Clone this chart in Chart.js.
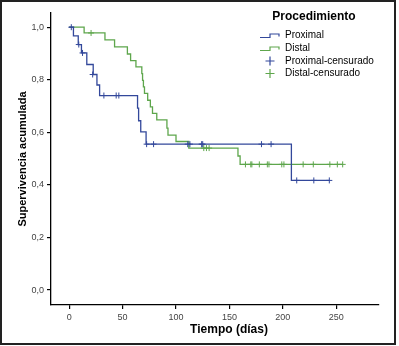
<!DOCTYPE html>
<html>
<head>
<meta charset="utf-8">
<script src="https://cdn.jsdelivr.net/npm/chart.js@4"></script>
<style>
  html, body { margin: 0; padding: 0; background: #fff; }
  #wrap { width: 399px; height: 346px; }
</style>
</head>
<body>
<div id="wrap"><canvas id="km_chart" width="399" height="346"></canvas></div>
<script>
// Kaplan-Meier steps (time in days, cumulative survival after the event)
const proximalTimes = [0, 4, 8.5, 11.5, 16.5, 22.5, 26, 28.5, 64, 65, 67, 72, 208, 243.5];
const proximalSurvival = [1.0, 0.967, 0.934, 0.902, 0.858, 0.82, 0.78, 0.74, 0.692, 0.644, 0.602, 0.555, 0.417, 0.417];
const proximalCensorTimes = [2, 9, 12.5, 22, 32.5, 44, 46.5, 72.5, 79, 111, 113, 124, 125, 180, 189, 213, 229, 243.5];
const proximalCensorSurvival = [1.0, 0.934, 0.902, 0.82, 0.74, 0.74, 0.74, 0.555, 0.555, 0.555, 0.555, 0.555, 0.555, 0.555, 0.555, 0.417, 0.417, 0.417];

const distalTimes = [0, 14, 33.5, 42.5, 54.5, 57.5, 62.5, 68, 68.7, 69.5, 70.5, 73.5, 76, 78, 82, 91.5, 92.5, 100, 112, 158, 160, 256];
const distalSurvival = [1.0, 0.978, 0.952, 0.925, 0.898, 0.873, 0.849, 0.823, 0.798, 0.773, 0.748, 0.722, 0.697, 0.672, 0.647, 0.616, 0.589, 0.565, 0.54, 0.51, 0.478, 0.478];
const distalCensorTimes = [20.5, 126, 128.5, 131, 165, 170, 171, 178, 185.5, 187, 199, 201, 219, 228.5, 244, 251, 256];
const distalCensorSurvival = [0.978, 0.54, 0.54, 0.54, 0.478, 0.478, 0.478, 0.478, 0.478, 0.478, 0.478, 0.478, 0.478, 0.478, 0.478, 0.478, 0.478];

const xTickValues = [0, 50, 100, 150, 200, 250];
const yTickValues = [0, 0.2, 0.4, 0.6, 0.8, 1.0];

const legendTitle = 'Procedimiento';
const legendLabels = ['Proximal', 'Distal', 'Proximal-censurado', 'Distal-censurado'];
const xTitle = 'Tiempo (días)';
const yTitle = 'Supervivencia acumulada';

const BLUE = '#33489b';
const GREEN = '#5ea64c';

const toPoints = (xs, ys) => xs.map((x, i) => ({ x: x, y: ys[i] }));

const kmDecor = {
  id: 'kmDecor',
  beforeDraw: (chart) => {
    const ctx = chart.ctx;
    ctx.save();
    ctx.fillStyle = '#fff';
    ctx.fillRect(0, 0, chart.width, chart.height);
    ctx.restore();
  },
  afterDraw: (chart) => {
    const ctx = chart.ctx;
    ctx.save();

    // outer frame
    ctx.strokeStyle = '#222';
    ctx.lineWidth = 2;
    ctx.strokeRect(1, 1, 394, 343);

    // axis titles
    ctx.fillStyle = '#000';
    ctx.font = 'bold 12px "Liberation Sans", Arial, sans-serif';
    ctx.textAlign = 'center';
    ctx.textBaseline = 'middle';
    ctx.fillText(xTitle, 229, 330);

    ctx.save();
    ctx.translate(23, 159);
    ctx.rotate(-Math.PI / 2);
    ctx.font = 'bold 11px "Liberation Sans", Arial, sans-serif';
    ctx.fillText(yTitle, 0, 0);
    ctx.restore();

    // legend
    ctx.font = 'bold 12px "Liberation Sans", Arial, sans-serif';
    ctx.fillText(legendTitle, 314, 17);

    ctx.font = '10px "Liberation Sans", Arial, sans-serif';
    ctx.textAlign = 'left';
    const rows = [35, 48, 61, 73.5];
    const colors = [BLUE, GREEN, BLUE, GREEN];
    rows.forEach((y, i) => {
      ctx.strokeStyle = colors[i];
      ctx.lineWidth = 1.2;
      ctx.beginPath();
      if (i < 2) {
        ctx.moveTo(260, y + 2.5);
        ctx.lineTo(270, y + 2.5);
        ctx.lineTo(270, y - 1);
        ctx.lineTo(279, y - 1);
        ctx.lineTo(279, y + 1.5);
      } else {
        ctx.moveTo(265.5, y);
        ctx.lineTo(274.5, y);
        ctx.moveTo(270, y - 4.5);
        ctx.lineTo(270, y + 4.5);
      }
      ctx.stroke();
      ctx.fillStyle = '#000';
      ctx.fillText(legendLabels[i], 285, y);
    });

    ctx.restore();
  }
};

const lineDataset = (label, points, color) => ({
  type: 'line',
  label: label,
  data: points,
  borderColor: color,
  borderWidth: 1.3,
  stepped: true,
  pointRadius: 0,
  fill: false,
  order: 2
});

const censorDataset = (label, points, color) => ({
  type: 'scatter',
  label: label,
  data: points,
  borderColor: color,
  backgroundColor: color,
  borderWidth: 1,
  pointStyle: 'cross',
  pointRadius: 3,
  order: 1
});

const createKmChart = () => {
  const canvas = document.getElementById('km_chart');

  const config = {
    type: 'line',
    data: {
      datasets: [
        lineDataset(legendLabels[0], toPoints(proximalTimes, proximalSurvival), BLUE),
        lineDataset(legendLabels[1], toPoints(distalTimes, distalSurvival), GREEN),
        censorDataset(legendLabels[2], toPoints(proximalCensorTimes, proximalCensorSurvival), BLUE),
        censorDataset(legendLabels[3], toPoints(distalCensorTimes, distalCensorSurvival), GREEN)
      ]
    },
    options: {
      responsive: false,
      animation: false,
      devicePixelRatio: 1,
      layout: { padding: { top: 13, right: 20, left: 0, bottom: 0 } },
      plugins: {
        legend: { display: false },
        tooltip: { enabled: false }
      },
      scales: {
        x: {
          type: 'linear',
          min: -17,
          max: 290,
          afterBuildTicks: (scale) => { scale.ticks = xTickValues.map(v => ({ value: v })); },
          afterFit: (scale) => { scale.height = 41; },
          grid: { drawOnChartArea: false, drawTicks: true, tickLength: 4, color: '#000', lineWidth: 1.2 },
          border: { display: true, color: '#000', width: 1.3 },
          ticks: {
            color: '#444',
            padding: 3,
            maxRotation: 0,
            font: { family: '"Liberation Sans", Arial, sans-serif', size: 9 }
          }
        },
        y: {
          type: 'linear',
          min: -0.057,
          max: 1.054,
          afterBuildTicks: (scale) => { scale.ticks = yTickValues.map(v => ({ value: v })); },
          afterFit: (scale) => { scale.width = 51; },
          grid: { drawOnChartArea: false, drawTicks: true, tickLength: 4, color: '#000', lineWidth: 1.2 },
          border: { display: true, color: '#000', width: 1.3 },
          ticks: {
            color: '#444',
            padding: 3,
            font: { family: '"Liberation Sans", Arial, sans-serif', size: 9 },
            callback: (v) => v.toFixed(1).replace('.', ',')
          }
        }
      }
    },
    plugins: [kmDecor]
  };

  return new Chart(canvas, config);
};

const kmChart = createKmChart();
</script>
</body>
</html>
